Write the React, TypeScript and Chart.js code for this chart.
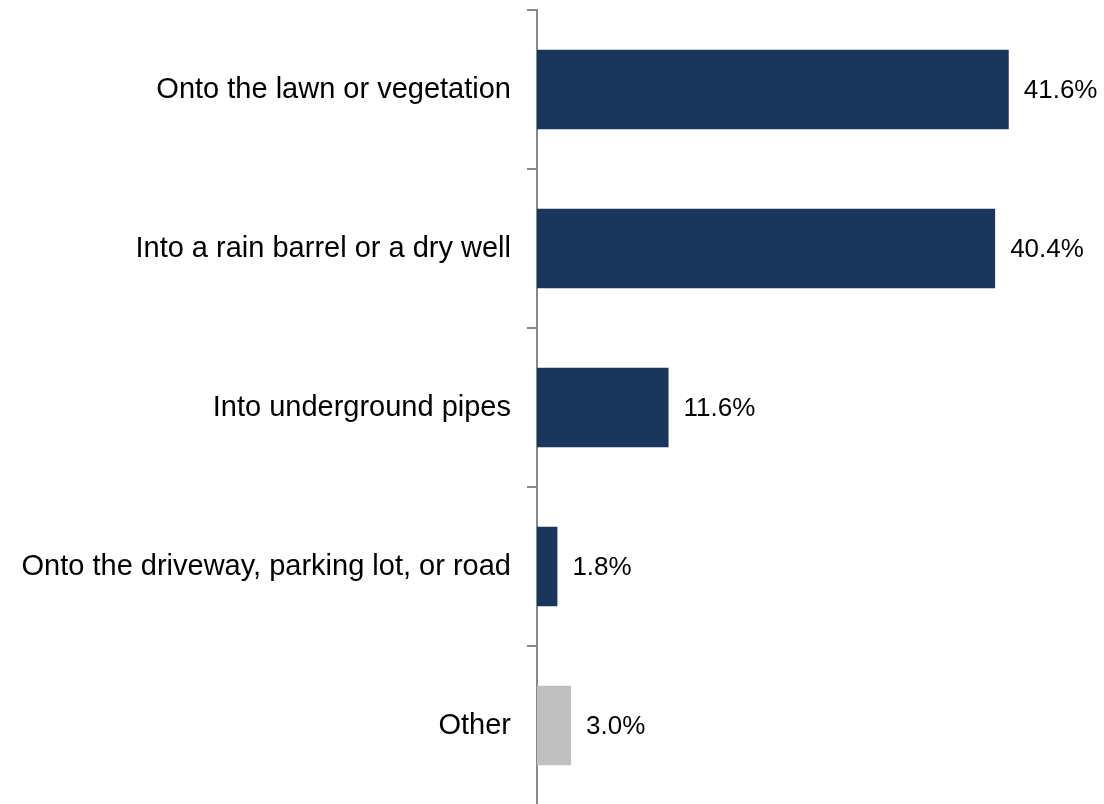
import React, { useEffect, useRef } from "react";
import { Chart, registerables } from "chart.js";

Chart.register(...registerables);

const categories = [
  "Onto the lawn or vegetation",
  "Into a rain barrel or a dry well",
  "Into underground pipes",
  "Onto the driveway, parking lot, or road",
  "Other",
];
const values = [41.6, 40.4, 11.6, 1.8, 3.0];
const barColors = ["#1B365D", "#1B365D", "#1B365D", "#1B365D", "#C0C0C0"];

const FONT = "'Liberation Sans', Arial, sans-serif";

const valueLabels = {
  id: "valueLabels",
  afterDatasetsDraw(chart: any) {
    const ctx = chart.ctx;
    const meta = chart.getDatasetMeta(0);
    ctx.save();
    ctx.font = `26px ${FONT}`;
    ctx.fillStyle = "#000000";
    ctx.textAlign = "left";
    ctx.textBaseline = "middle";
    meta.data.forEach((bar: any, i: number) => {
      ctx.fillText(values[i].toFixed(1) + "%", bar.x + 15, bar.y + 1);
    });
    ctx.restore();
  },
};

export default function App() {
  const ref = useRef<HTMLCanvasElement>(null);
  useEffect(() => {
    if (!ref.current) return;
    const chart = new Chart(ref.current, {
      type: "bar",
      data: {
        labels: categories,
        datasets: [
          {
            data: values,
            backgroundColor: barColors,
            categoryPercentage: 0.5,
            barPercentage: 1,
          },
        ],
      },
      options: {
        indexAxis: "y",
        animation: false,
        responsive: false,
        maintainAspectRatio: false,
        layout: { padding: { top: 10, bottom: 0, left: 0, right: 0 } },
        plugins: { legend: { display: false }, tooltip: { enabled: false } },
        scales: {
          x: { display: false, min: 0, max: 50 },
          y: {
            afterFit(scale: any) {
              scale.width = 537;
              scale.paddingTop = 0;
              scale.paddingBottom = 0;
            },
            border: { display: true, color: "#898989", width: 2 },
            grid: {
              drawOnChartArea: false,
              drawTicks: true,
              tickLength: 10,
              color: "#898989",
              lineWidth: 2,
              offset: true,
            },
            ticks: {
              color: "#000000",
              font: { family: FONT, size: 29 },
              padding: 16,
            },
          },
        },
      },
      plugins: [valueLabels],
    });
    return () => chart.destroy();
  }, []);
  return (
    <div style={{ position: "fixed", left: 0, top: 0, width: 1104, height: 805, background: "#fff" }}>
      <canvas ref={ref} width={1104} height={805} style={{ width: 1104, height: 805 }} />
    </div>
  );
}
